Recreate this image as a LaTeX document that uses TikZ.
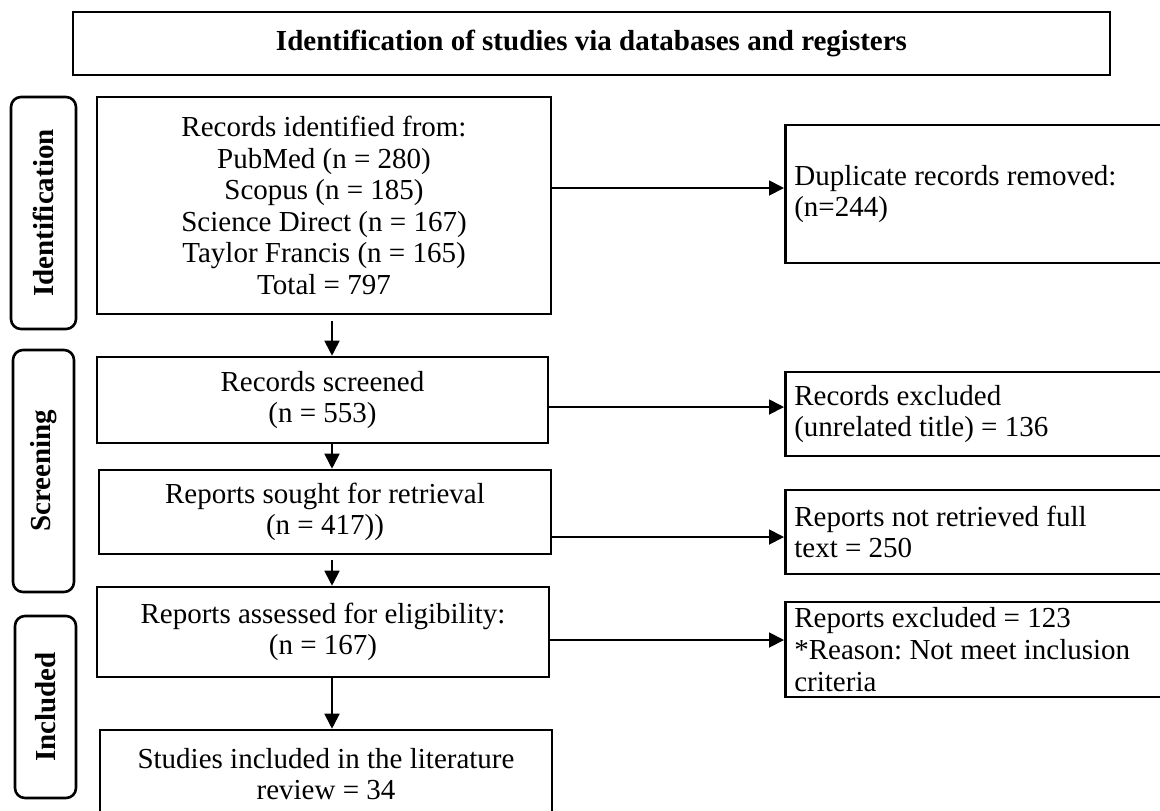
\documentclass[tikz,border=0pt]{standalone}
\usepackage{fontspec}
\setmainfont{Liberation Serif}
\usetikzlibrary{arrows.meta}
\frenchspacing

\begin{document}
\begin{tikzpicture}[
    x=0.5pt, y=-0.5pt,
    font=\fontsize{14.5}{15.8}\selectfont,
    box/.style={rectangle, draw, line width=1.3pt, align=center, inner sep=0pt, minimum width=226pt},
    outbox/.style={rectangle, draw, line width=1.3pt, align=flush left, anchor=west, text width=187pt, inner xsep=4.5pt, inner ysep=0pt},
    phase/.style={rectangle, draw, rounded corners=5pt, line width=1.3pt, rotate=90, inner sep=0pt, font=\fontsize{14.5}{15.8}\selectfont\bfseries},
    arr/.style={-{Triangle[length=7.5pt,width=7.5pt]}, line width=0.9pt}
]
    \useasboundingbox (0,0) rectangle (1160,810);
    \clip (0,0) rectangle (1160,810);

    % header
    \node[box, minimum width=518.5pt, minimum height=31.5pt, font=\fontsize{14.5}{15.8}\selectfont\bfseries] (head) at (591.5,43.5) {Identification of studies via databases and registers};

    % phases
    \node[phase, minimum width=116pt, minimum height=32.5pt] (idphase) at (43.5,213) {Identification};
    \node[phase, minimum width=121pt, minimum height=30.5pt] (scphase) at (43.5,471) {Screening};
    \node[phase, minimum width=91pt, minimum height=30.5pt] (inphase) at (45.5,707) {Included};

    % main column
    \node[box, minimum width=227pt, minimum height=108.5pt] (records) at (324,205.5) {Records identified from:\\PubMed (n = 280)\\Scopus (n = 185)\\Science Direct (n = 167)\\Taylor Francis (n = 165)\\Total = 797};
    \node[box, minimum width=225.5pt, minimum height=43pt] (screened) at (322.5,400) {Records screened\\(n = 553)};
    \node[box, minimum height=42pt] (sought) at (325,512) {Reports sought for retrieval\\(n = 417))};
    \node[box, minimum height=45pt] (elig) at (323,632) {Reports assessed for eligibility:\\(n = 167)};
    \node[box, minimum height=44pt] (studies) at (326,774) {Studies included in the literature\\review = 34};

    % exclusions
    \node[outbox, minimum height=69pt] (dup) at (784,194) {Duplicate records removed:\\(n=244)};
    \node[outbox, minimum height=42pt] (excl) at (784,414) {Records excluded\\(unrelated title) = 136};
    \node[outbox, minimum height=42pt] (notret) at (784,532) {Reports not retrieved full\\text = 250};
    \node[outbox, minimum height=47.5pt] (repexcl) at (784,649.5) {Reports excluded = 123\\{*}Reason: Not meet inclusion\\criteria};

    \coordinate (axis) at (332,0);
    \draw[arr, shorten <=3pt] (records.south -| axis) -- (screened.north -| axis);
    \draw[arr] (screened.south -| axis) -- (sought.north -| axis);
    \draw[arr, shorten <=2.5pt] (sought.south -| axis) -- (elig.north -| axis);
    \draw[arr] (elig.south -| axis) -- (studies.north -| axis);

    \draw[arr] ([yshift=3pt]dup.west -| records.east) -- ([yshift=3pt]dup.west);
    \draw[arr] ([yshift=3.5pt]excl.west -| screened.east) -- ([yshift=3.5pt]excl.west);
    \draw[arr] ([yshift=-2.5pt]notret.west -| sought.east) -- ([yshift=-2.5pt]notret.west);
    \draw[arr] ([yshift=4.75pt]repexcl.west -| elig.east) -- ([yshift=4.75pt]repexcl.west);
\end{tikzpicture}
\end{document}
